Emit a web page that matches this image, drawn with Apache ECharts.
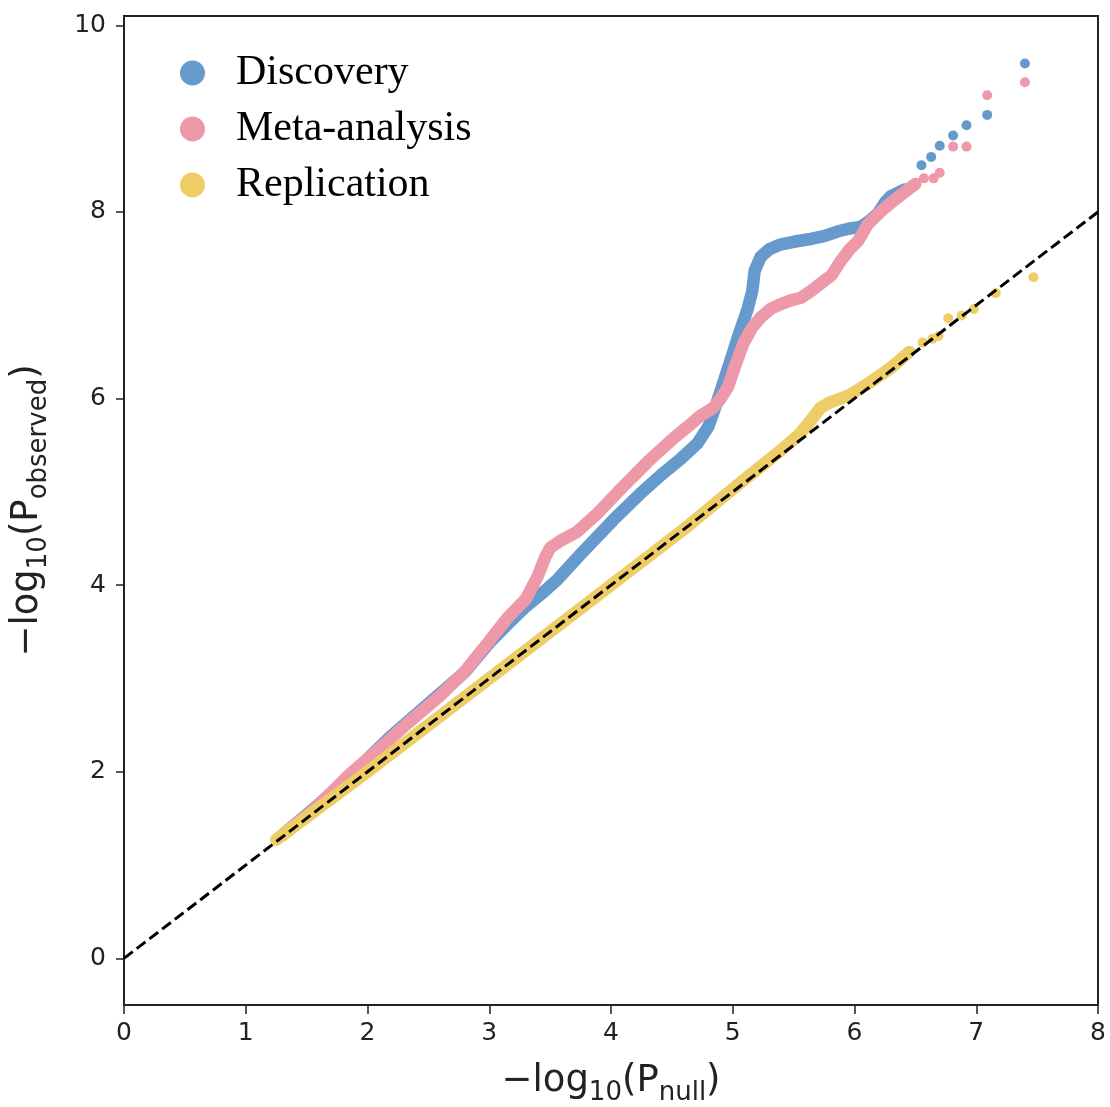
<!DOCTYPE html>
<html>
<head>
<meta charset="utf-8">
<script src="https://cdn.jsdelivr.net/npm/echarts@6/dist/echarts.min.js"></script>
<style>
  html, body { margin: 0; padding: 0; background: #ffffff; }
  #chart { width: 1110px; height: 1107px; }
</style>
</head>
<body>
<div id="chart"></div>
<script>
// ---- data ----
const seriesNames = ['Discovery', 'Meta-analysis', 'Replication'];

// dense part of each QQ curve (x = -log10 Pnull, y = -log10 Pobserved)
const discoveryBandX = [1.30, 1.60, 1.90, 2.20, 2.50, 2.80, 3.00, 3.15, 3.30, 3.45, 3.56, 3.75, 4.02, 4.24, 4.41, 4.57, 4.71, 4.80, 4.86, 4.93, 4.98, 5.04, 5.12, 5.16, 5.18, 5.23, 5.30, 5.39, 5.50, 5.64, 5.75, 5.86, 5.95, 6.05, 6.12, 6.19, 6.25, 6.30, 6.41];
const discoveryBandY = [1.32, 1.65, 2.01, 2.39, 2.73, 3.07, 3.38, 3.58, 3.77, 3.93, 4.06, 4.33, 4.70, 4.98, 5.18, 5.35, 5.52, 5.70, 5.92, 6.20, 6.40, 6.65, 6.95, 7.15, 7.37, 7.52, 7.60, 7.65, 7.68, 7.71, 7.74, 7.79, 7.82, 7.84, 7.90, 7.98, 8.10, 8.17, 8.24];
const discoveryTailX = [6.55, 6.63, 6.70, 6.81, 6.92, 7.09, 7.40];
const discoveryTailY = [8.50, 8.59, 8.71, 8.82, 8.93, 9.04, 9.59];

const metaBandX = [1.30, 1.59, 1.86, 2.10, 2.33, 2.60, 2.79, 3.00, 3.15, 3.30, 3.40, 3.46, 3.50, 3.59, 3.72, 3.89, 4.08, 4.30, 4.51, 4.65, 4.74, 4.84, 4.90, 4.96, 5.02, 5.09, 5.16, 5.23, 5.31, 5.39, 5.47, 5.56, 5.64, 5.72, 5.81, 5.89, 5.96, 6.03, 6.11, 6.22, 6.32, 6.44, 6.50];
const metaBandY = [1.32, 1.63, 1.98, 2.25, 2.52, 2.82, 3.06, 3.40, 3.65, 3.85, 4.10, 4.30, 4.40, 4.48, 4.57, 4.77, 5.03, 5.32, 5.57, 5.72, 5.82, 5.90, 6.00, 6.12, 6.35, 6.60, 6.76, 6.87, 6.96, 7.01, 7.05, 7.08, 7.15, 7.23, 7.32, 7.48, 7.60, 7.69, 7.87, 8.01, 8.12, 8.24, 8.30];
const metaTailX = [6.57, 6.65, 6.70, 6.81, 6.92, 7.09, 7.40];
const metaTailY = [8.36, 8.36, 8.42, 8.70, 8.70, 9.25, 9.39];

const replicationBandX = [1.25, 2.00, 3.00, 4.00, 4.60, 5.00, 5.20, 5.40, 5.55, 5.65, 5.72, 5.80, 5.95, 6.10, 6.30, 6.45];
const replicationBandY = [1.27, 2.00, 3.00, 4.00, 4.60, 5.03, 5.24, 5.45, 5.62, 5.78, 5.90, 5.96, 6.03, 6.15, 6.33, 6.50];
const replicationTailX = [6.56, 6.64, 6.69, 6.77, 6.88, 6.98, 7.16, 7.47];
const replicationTailY = [6.60, 6.64, 6.67, 6.86, 6.89, 6.96, 7.13, 7.30];

// expected (null) diagonal
const refLineX = [0, 8];
const refLineY = [0, 8];

// tick labels
const xTicks = [0, 1, 2, 3, 4, 5, 6, 7, 8];
const yTicks = [0, 2, 4, 6, 8, 10];

// ---- build chart ----
const colors = { 'Discovery': '#6699CC', 'Meta-analysis': '#EE99AA', 'Replication': '#EECC66' };
function pairs(xs, ys) { return xs.map((x, i) => [x, ys[i]]); }

function band(name, xs, ys) {
  return {
    name: name, type: 'line', data: pairs(xs, ys), color: colors[name],
    showSymbol: false, symbol: 'none', smooth: false, silent: true,
    lineStyle: { width: 12.5, color: colors[name], cap: 'round', join: 'round' }
  };
}
function tail(name, xs, ys) {
  return {
    name: name, type: 'scatter', data: pairs(xs, ys), color: colors[name],
    symbol: 'circle', symbolSize: 10, silent: true,
    itemStyle: { color: colors[name], opacity: 1 }
  };
}

const axisFont = 'DejaVu Sans';
const nameRich = {
  m: { fontSize: 37, fontFamily: axisFont, color: '#222' },
  s: { fontSize: 26, fontFamily: axisFont, color: '#222', padding: [23, 0, 0, 0] }
};

const option = {
  animation: false,
  backgroundColor: '#ffffff',
  grid: {
    left: 124, right: 12, top: 16, bottom: 102,
    containLabel: false, outerBoundsMode: 'none',
    show: true, borderColor: '#222', borderWidth: 2, backgroundColor: 'transparent'
  },
  legend: {
    orient: 'vertical', left: 175, top: 47,
    itemWidth: 25, itemHeight: 25, itemGap: 14,
    data: seriesNames.map(n => ({ name: n, icon: 'circle' })),
    textStyle: { fontFamily: 'Liberation Serif', fontSize: 42, color: '#000', lineHeight: 42, padding: [0, 0, 0, 26] },
    selectedMode: false
  },
  xAxis: {
    type: 'value', min: xTicks[0], max: xTicks[xTicks.length - 1], interval: 1,
    name: '{m|−log}{s|10}{m|(P}{s|null}{m|)}',
    nameLocation: 'middle', nameGap: 52,
    nameTextStyle: { rich: nameRich },
    axisLine: { show: true, onZero: false, lineStyle: { color: '#222', width: 2 } },
    axisTick: { show: true, inside: false, length: 9, lineStyle: { color: '#222', width: 1.5 } },
    axisLabel: { fontFamily: axisFont, fontSize: 25, color: '#222', margin: 16 },
    splitLine: { show: false }
  },
  yAxis: {
    type: 'value', min: -0.5, max: 10.1,
    name: '{m|−log}{s|10}{m|(P}{s|observed}{m|)}',
    nameLocation: 'middle', nameGap: 72, nameRotate: 90,
    nameTextStyle: { rich: nameRich },
    axisLine: { show: true, onZero: false, lineStyle: { color: '#222', width: 2 } },
    axisTick: { show: true, inside: false, length: 8, customValues: yTicks, lineStyle: { color: '#222', width: 1.5 } },
    axisLabel: { fontFamily: axisFont, fontSize: 25, color: '#222', margin: 18, customValues: yTicks },
    splitLine: { show: false }
  },
  series: [
    band('Discovery', discoveryBandX, discoveryBandY),
    tail('Discovery', discoveryTailX, discoveryTailY),
    band('Meta-analysis', metaBandX, metaBandY),
    tail('Meta-analysis', metaTailX, metaTailY),
    band('Replication', replicationBandX, replicationBandY),
    tail('Replication', replicationTailX, replicationTailY),
    {
      name: 'null', type: 'line', data: pairs(refLineX, refLineY),
      showSymbol: false, symbol: 'none', silent: true,
      lineStyle: { color: '#000', width: 3, type: [11, 5] }, z: 5
    }
  ]
};

const chart = echarts.init(document.getElementById('chart'), null, { renderer: 'canvas' });
chart.setOption(option);
</script>
</body>
</html>
